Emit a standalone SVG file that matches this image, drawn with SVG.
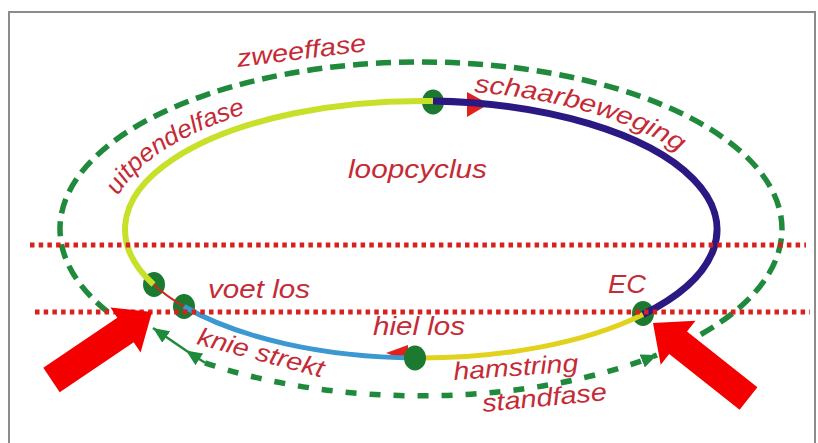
<svg xmlns="http://www.w3.org/2000/svg" width="818" height="443" viewBox="0 0 818 443">
<defs>
<style>
.lbl{font-family:"Liberation Sans",Arial,sans-serif;font-style:italic;font-size:25px;fill:#c52b36}
.dash{fill:none;stroke:#1f8a3c;stroke-width:5.5}
.dot{fill:#1b7a30}
.rdot{fill:none;stroke:#d8201f;stroke-width:5;stroke-dasharray:4.5 4.2}
.seg{fill:none;stroke-linecap:butt}
</style>
<marker id="garr" viewBox="0 0 16 14" markerWidth="16" markerHeight="14" refX="16" refY="7" orient="auto" markerUnits="userSpaceOnUse">
<path d="M0,0 L16,7 L0,14 z" fill="#1f8a3c"/>
</marker>
<path id="pUit" d="M118.2,195.8 A311,139.5 0 0 1 313.6,98.4"/>
<path id="pSch" d="M474,92.1 A311,139.5 0 0 1 712.2,181.8"/>
</defs>
<rect x="0" y="0" width="818" height="443" fill="#ffffff"/>
<rect id="frame" x="9" y="12" width="806" height="440" fill="none" stroke="#8c8c8c" stroke-width="2"/>

<g id="connectors">
<path id="zweef-arc" class="dash" d="M108,312.2 A361,167 0 1 1 695,337.7" stroke-dasharray="15 8"/>
<path id="stand-arc" class="dash" d="M205,362.8 A361,167 0 0 0 657,355" stroke-dasharray="11 13" marker-end="url(#garr)"/>
<path id="stand-tail" d="M205,362.8 L186,350.5 L153,328" fill="none" stroke="#1f8a3c" stroke-width="2.5" marker-mid="url(#garr)" marker-end="url(#garr)"/>
</g>

<g id="nodes">
<ellipse id="dot-top" class="dot" cx="433" cy="102" rx="11" ry="12.5"/>
<ellipse id="dot-voetlos1" class="dot" cx="154" cy="284.5" rx="11" ry="12.5"/>
<ellipse id="dot-voetlos2" class="dot" cx="184" cy="306.5" rx="11" ry="12.5"/>
<ellipse id="dot-ec" class="dot" cx="643" cy="313.5" rx="11" ry="12.5"/>
</g>

<g id="cycle">
<polygon points="467,92 467,117 489,104" fill="#e3201c"/>
<path id="seg-navy" class="seg" d="M433,101.1 A296,128.5 0 0 1 643,314.5" stroke="#2b1882" stroke-width="7"/>
<path id="seg-yellow" class="seg" d="M643,314.5 A296,128.5 0 0 1 415,358" stroke="#e2d21e" stroke-width="5"/>
<polygon points="386,353 408,345 408,361" fill="#e3201c"/>
<path id="seg-blue" class="seg" d="M415,358 A296,128.5 0 0 1 184,306.5" stroke="#3b98d0" stroke-width="5"/>
<path id="seg-red" class="seg" d="M184,306.5 A296,128.5 0 0 1 153.5,284.5" stroke="#d8201f" stroke-width="2"/>
<path id="seg-lime" class="seg" d="M153.5,284.5 A296,128.5 0 0 1 433,101.1" stroke="#c9e02a" stroke-width="6"/>
<ellipse id="dot-hiel" class="dot" cx="415" cy="358" rx="11" ry="12.5"/>
</g>

<g id="phase-lines">
<line class="rdot" x1="30" y1="245" x2="806" y2="245"/>
<line class="rdot" x1="35" y1="312" x2="810" y2="312"/>
</g>

<g id="red-arrows">
<polygon id="arrow-left" points="43.3,367.8 117.3,317.8 110.4,307.6 152,312 140.6,352.4 133.7,342.2 59.7,392.2" fill="#f40000"/>
<polygon id="arrow-right" points="757.4,387.3 687,331.6 695.5,320.8 653,323 660.7,364.8 669.2,354 739.6,409.7" fill="#f40000"/>
</g>

<g id="labels">
<text class="lbl" x="238" y="67" transform="rotate(-7 238 67)" textLength="130" lengthAdjust="spacingAndGlyphs">zweeffase</text>
<text class="lbl"><textPath href="#pUit" textLength="155" lengthAdjust="spacingAndGlyphs">uitpendelfase</textPath></text>
<text class="lbl"><textPath href="#pSch" textLength="216" lengthAdjust="spacingAndGlyphs">schaarbeweging</textPath></text>
<text class="lbl" x="348" y="178" textLength="139" lengthAdjust="spacingAndGlyphs">loopcyclus</text>
<text class="lbl" x="208" y="298" textLength="102" lengthAdjust="spacingAndGlyphs">voet los</text>
<text class="lbl" x="608" y="293" textLength="38" lengthAdjust="spacingAndGlyphs">EC</text>
<text class="lbl" x="373" y="335" textLength="92" lengthAdjust="spacingAndGlyphs">hiel los</text>
<text class="lbl" x="196" y="344" transform="rotate(15 196 344)" textLength="130" lengthAdjust="spacingAndGlyphs">knie strekt</text>
<text class="lbl" x="454" y="380" transform="rotate(-4 454 380)" textLength="125" lengthAdjust="spacingAndGlyphs">hamstring</text>
<text class="lbl" x="483" y="412" transform="rotate(-5.5 483 412)" textLength="125" lengthAdjust="spacingAndGlyphs">standfase</text>
</g>
</svg>
